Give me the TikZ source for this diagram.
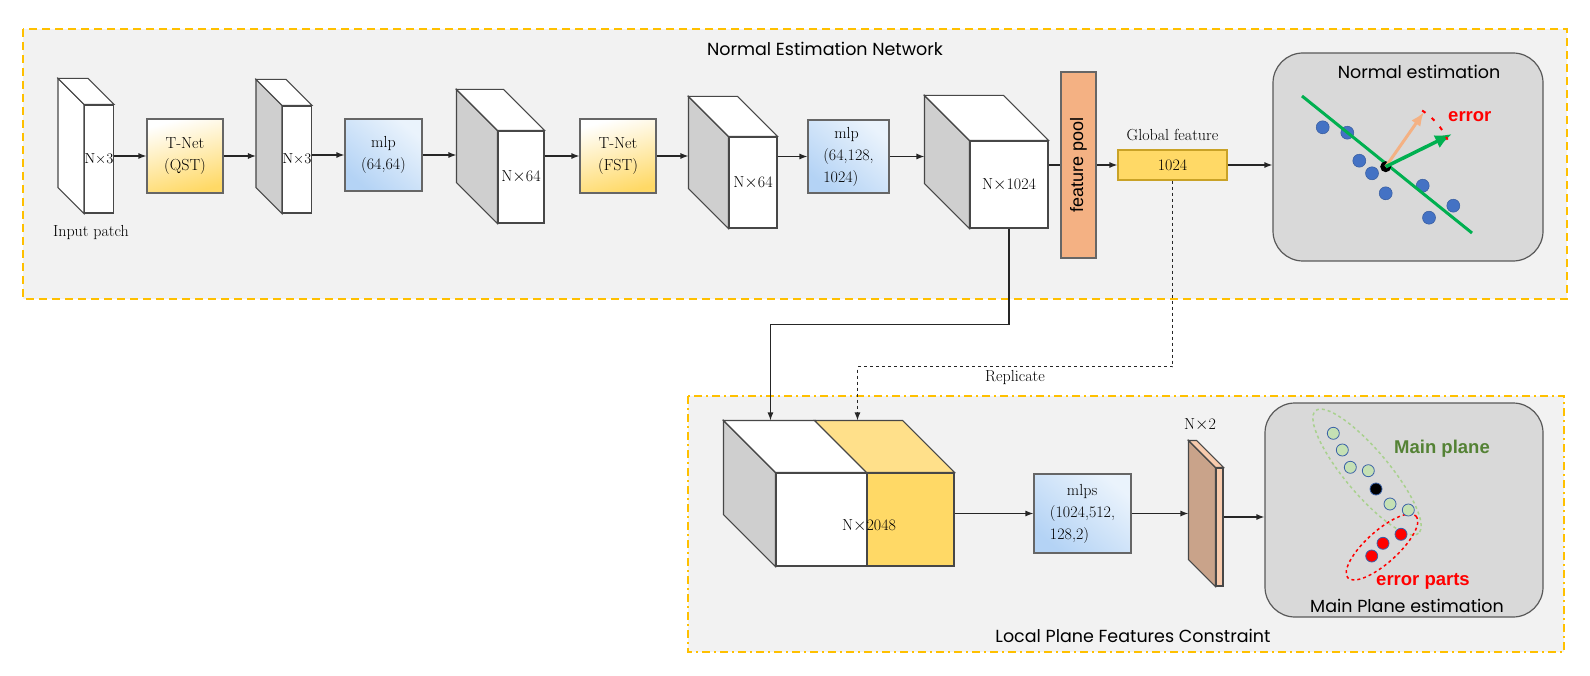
\documentclass[tikz,border=0pt]{standalone}
\usepackage{fontspec}
\usepackage{xcolor}
\usepackage{pgf,tikz}
\usetikzlibrary{shapes}
\usetikzlibrary{arrows,arrows.meta}
\usetikzlibrary{positioning}
\newfontfamily\gothic{Poppins}
\newfontfamily\arial{Liberation Sans}
\definecolor{boxorange}{HTML}{FFC000}
\definecolor{boxgray}{HTML}{F2F2F2}
\definecolor{panelgray}{HTML}{D9D9D9}
\definecolor{sidegray}{HTML}{CFCFCF}
\definecolor{tnetyellow}{HTML}{FFD966}
\definecolor{mlpblue}{HTML}{B4D3F5}
\definecolor{mlplight}{HTML}{EAF3FC}
\definecolor{poolorange}{HTML}{F4B183}
\definecolor{globborder}{HTML}{C9A227}
\definecolor{yellowtop}{HTML}{FFE08A}
\definecolor{slabbrown}{HTML}{C9A38A}
\definecolor{slabpeach}{HTML}{F8CBAD}
\definecolor{dotblue}{HTML}{4472C4}
\definecolor{linegreen}{HTML}{00B050}
\definecolor{planegreen}{HTML}{548235}
\definecolor{ringgreen}{HTML}{A9D18E}
\definecolor{pointgreen}{HTML}{C5E0B4}
\tikzset{
  font={\fontsize{16pt}{22pt}\selectfont}}

\begin{document}
\begin{tikzpicture}[x=1pt, y=-1pt]

    \tikzset{edge/.style = {-{Latex[length=8pt, width=6pt]}, line width=1.2pt, draw=black!85}}
    \tikzset{face/.style = {draw=black!72, line width=1.1pt, fill=white, inner sep=0pt}}
    \tikzset{block/.style = {draw=black!60, line width=1.2pt, inner sep=0pt, align=center}}
    \tikzset{group/.style = {draw=boxorange, line width=2pt, fill=boxgray}}
    \tikzset{panel/.style = {draw=black!65, line width=1.2pt, fill=panelgray, rounded corners=30pt}}
    \tikzset{gothictext/.style = {font=\gothic\fontsize{17.5pt}{20pt}\selectfont}}
    \tikzset{boldtext/.style = {font=\arial\bfseries\fontsize{18.5pt}{20pt}\selectfont}}

    \useasboundingbox (0,0) rectangle (1590,676);

    % groups
    \filldraw[group, dash pattern=on 8pt off 5pt] (23,29) rectangle (1567,299);
    \filldraw[group, dash pattern=on 8pt off 4pt on 2pt off 4pt] (688,396) rectangle (1564,652);
    \node[gothictext] (ntitle) at (825,49) {Normal Estimation Network};
    \node[gothictext] (ltitle) at (1133,636) {Local Plane Features Constraint};

    % feature maps
    \node[face, minimum width=28, minimum height=108, font=\fontsize{14.5pt}{16pt}\selectfont] (in) at (99,159) {N$\times$3};
    \node[face, minimum width=28, minimum height=107, font=\fontsize{14.5pt}{16pt}\selectfont] (c2) at (297,159.5) {N$\times$3};
    \node[face, minimum width=46, minimum height=92] (c3) at (521,177) {N$\times$64};
    \node[face, minimum width=48, minimum height=91] (c4) at (753,182.5) {N$\times$64};
    \node[face, minimum width=78, minimum height=87] (c5) at (1009,184.5) {N$\times$1024};
    \node[face, minimum width=91, minimum height=93] (bigw) at (821.5,519.5) {};
    \node[face, minimum width=87, minimum height=93, fill=tnetyellow] (bigy) at (910.5,519.5) {};
    \node[face, minimum width=7, minimum height=118, fill=slabpeach] (slab) at (1219.5,527) {};
    \foreach \n/\d/\sidecol/\topcol in {in/26/white/white, c2/26/sidegray/white, c3/41/sidegray/white,
        c4/40/sidegray/white, c5/45/sidegray/white, bigw/52/sidegray/white, slab/27/slabbrown/slabpeach} {
        \coordinate (\n-back) at ([shift={(-\d,-\d)}]\n.north west);
        \filldraw[face, fill=\sidecol] (\n.north west) -- (\n-back) -- ([shift={(-\d,-\d)}]\n.south west) -- (\n.south west) -- cycle;
        \filldraw[face, fill=\topcol] (\n.north west) -- (\n-back) -- ([shift={(-\d,-\d)}]\n.north east) -- (\n.north east) -- cycle;
    }
    \coordinate (bigy-back) at ([shift={(-52,-52)}]bigy.north west);
    \filldraw[face, fill=yellowtop] (bigy.north west) -- (bigy-back) -- ([shift={(-52,-52)}]bigy.north east) -- (bigy.north east) -- cycle;
    \node (bigtext) at (869,526) {N$\times$2048};
    \node[below=8pt of in, xshift=-8pt] (inlabel) {Input patch};
    \node (slabtext) at (1200,425) {N$\times$2};

    % blocks
    \node[block, minimum width=76, minimum height=74, top color=white, bottom color=tnetyellow, shading angle=15] (tq) at (185,156) {T-Net\\(QST)};
    \node[block, minimum width=77, minimum height=72, top color=mlplight, bottom color=mlpblue, shading angle=-40] (mlp1) at (383.5,155) {mlp\\(64,64)};
    \node[block, minimum width=76, minimum height=74, top color=white, bottom color=tnetyellow, shading angle=15] (tf) at (618,156) {T-Net\\(FST)};
    \node[block, minimum width=81, minimum height=73, top color=mlplight, bottom color=mlpblue, shading angle=-40, align=left] (mlp2) at (848.5,156.5) {\hspace*{11pt}mlp\\(64,128,\\1024)};
    \node[block, minimum width=186, minimum height=35, fill=poolorange, rotate=90, font=\arial\fontsize{18pt}{20pt}\selectfont] (pool) at (1078.5,165) {feature pool};
    \node[block, minimum width=109, minimum height=30, fill=tnetyellow, draw=globborder] (glob) at (1172.5,165) {1024};
    \node[above=5pt of glob] (globlabel) {Global feature};
    \node[block, minimum width=97, minimum height=79, top color=mlplight, bottom color=mlpblue, shading angle=-40, align=left] (mlps) at (1082.5,513.5) {\hspace*{17pt}mlps\\(1024,512,\\128,2)};

    % panels
    \node[panel, minimum width=270, minimum height=208] (np) at (1408,157) {};
    \node[gothictext] (nptitle) at (1419,72) {Normal estimation};
    \foreach \p in {(1322.7,127.3), (1347.3,132.7), (1359.3,160.7), (1372,173.3), (1385.7,193.3),
        (1422.7,185.7), (1453.3,205.7), (1429,217.7)}
        \filldraw[fill=dotblue, draw=dotblue!80!black, line width=0.5pt] \p circle[radius=6.5];
    \draw[linegreen, line width=3pt] (1302,96) -- (1472,233);
    \coordinate (centre) at (1385.7,166.7);
    \fill[black] (centre) circle[radius=5.5];
    \draw[-{Latex[length=14pt, width=11pt]}, poolorange, line width=3pt] (centre) -- (1424,112);
    \draw[-{Latex[length=17pt, width=14pt]}, linegreen, line width=3.5pt] (centre) -- (1452,134);
    \draw[red, line width=2pt, dash pattern=on 4pt off 8pt] (centre) ++(-57:67) arc[start angle=-57, end angle=-25, radius=70];
    \node[boldtext, text=red, anchor=west, inner sep=0pt] (errtext) at (1448,117) {error};

    \node[panel, minimum width=278, minimum height=214] (mp) at (1404,510) {};
    \draw[ringgreen, dashed, line width=1.5pt, rotate around={-50:(1367,472)}] (1367,472) ellipse[x radius=80, y radius=22];
    \draw[red, dashed, line width=1.5pt, rotate around={42:(1382,547)}] (1382,547) ellipse[x radius=46, y radius=16];
    \foreach \p in {(1333.3,433.3), (1342.3,450), (1350.3,467.3), (1368.3,470.7), (1390,504), (1408.3,510)}
        \filldraw[fill=pointgreen, draw=dotblue!85!black, line width=0.8pt] \p circle[radius=6];
    \filldraw[fill=black, draw=dotblue!85!black, line width=0.8pt] (1376,489) circle[radius=6];
    \foreach \p in {(1401,534.3), (1383,543.3), (1371.7,556)}
        \filldraw[fill=red, draw=dotblue!85!black, line width=0.8pt] \p circle[radius=6];
    \node[boldtext, text=planegreen] (planetext) at (1442,449) {Main plane};
    \node[boldtext, text=red] (parttext) at (1423,581) {error parts};
    \node[gothictext] (mptitle) at (1407,606) {Main Plane estimation};

    %edges
    \draw[edge] (in.east |- tq) -- (tq);
    \draw[edge] (tq) -- (tq -| c2-back);
    \draw[edge] (c2.east |- mlp1) -- (mlp1);
    \draw[edge] (mlp1) -- (mlp1 -| c3-back);
    \draw[edge] (c3.east |- tf) -- (tf);
    \draw[edge] (tf) -- (tf -| c4-back);
    \draw[edge] (c4.east |- mlp2) -- (mlp2);
    \draw[edge] (mlp2) -- (mlp2 -| c5-back);
    \draw[line width=1.2pt, draw=black!85] (c5.east |- pool) -- (pool);
    \draw[edge] (pool) -- (glob);
    \draw[edge] (glob) -- (glob -| np.west);
    \draw[edge] (c5.south) -- ++(0,96) -| ([xshift=47pt]bigw-back);
    \draw[edge, dashed] (glob.south) -- ++(0,186) -| node[below, pos=0.25] {Replicate} ([xshift=43pt]bigy-back);
    \draw[edge] (bigy.east |- mlps) -- (mlps);
    \draw[edge] (mlps) -- (mlps -| slab-back);
    \coordinate (slabout) at ([yshift=10pt]slab.east);
    \draw[edge] (slabout) -- (slabout -| mp.west);

\end{tikzpicture}
\end{document}
